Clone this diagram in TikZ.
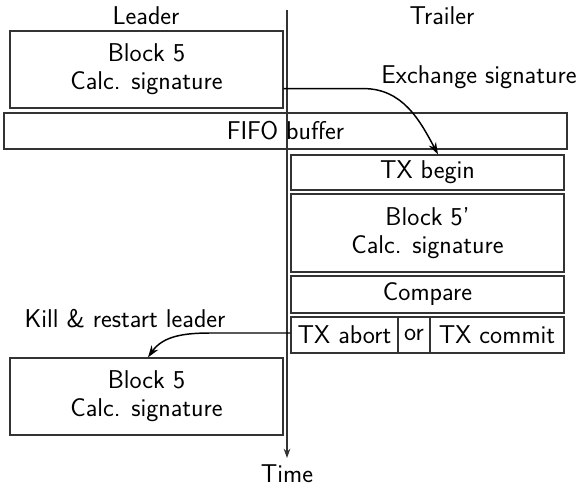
\documentclass[tikz,border=0pt]{standalone}
\usetikzlibrary{arrows.meta,calc}
\begin{document}
\begin{tikzpicture}[x=0.75pt,y=-0.75pt,
  font=\sffamily\fontsize{19.3}{21}\selectfont,
  box/.style={draw=black!80,line width=0.9pt,inner sep=0pt,align=center},
  lbl/.style={inner sep=0pt,anchor=base},
  conn/.style={draw=black,line width=1.1pt,-{Stealth[length=9pt,width=6pt]}}]
\useasboundingbox (0,0) rectangle (581,489);
% labels
\node[lbl] (leader) at (146,24) {Leader};
\node[lbl] (trailer) at (442,24) {Trailer};
\node[lbl] (time) at (287,482) {Time};
% timeline
\coordinate (ttop) at (287,10);
\draw[black!80,line width=0.8pt,-{Stealth[length=7pt,width=5pt]}] (ttop) -- (287,458);
% boxes
\node[box,minimum width=273*0.75pt,minimum height=77*0.75pt] (b1) at (146.5,69.5) {Block 5\\Calc. signature};
\node[box,minimum width=563*0.75pt,minimum height=36*0.75pt] (fifo) at (285.5,131) {FIFO buffer};
\node[box,minimum width=273*0.75pt,minimum height=35*0.75pt] (txb) at (427.5,172.5) {TX begin};
\node[box,minimum width=273*0.75pt,minimum height=78*0.75pt] (b5p) at (427.5,233) {Block 5'\\Calc. signature};
\node[box,minimum width=273*0.75pt,minimum height=37*0.75pt] (cmp) at (427.5,294.5) {Compare};
\node[box,minimum width=107*0.75pt,minimum height=36*0.75pt] (abort) at (344.5,335) {TX abort};
\node[box,minimum width=32*0.75pt,minimum height=36*0.75pt] (or) at (414,335) {or};
\node[box,minimum width=134*0.75pt,minimum height=36*0.75pt] (commit) at (497,335) {TX commit};
\node[box,minimum width=273*0.75pt,minimum height=77*0.75pt] (b2) at (146.5,396.5) {Block 5\\Calc. signature};
% connector labels
\node[lbl] (exch) at (479,83) {Exchange signature};
\node[lbl] (kill) at (125,327) {Kill \& restart leader};
% connectors
\draw[conn] ($(b1.south east)+(0,-20)$) -- ++(80,0) to[out=0,in=118] ($(txb.north)+(10.5,0)$);
\draw[conn] ($(abort.west)+(0,-2)$) -- ++(-80,0) to[out=180,in=55] ($(b2.north)+(1.5,0)$);
\end{tikzpicture}
\end{document}
